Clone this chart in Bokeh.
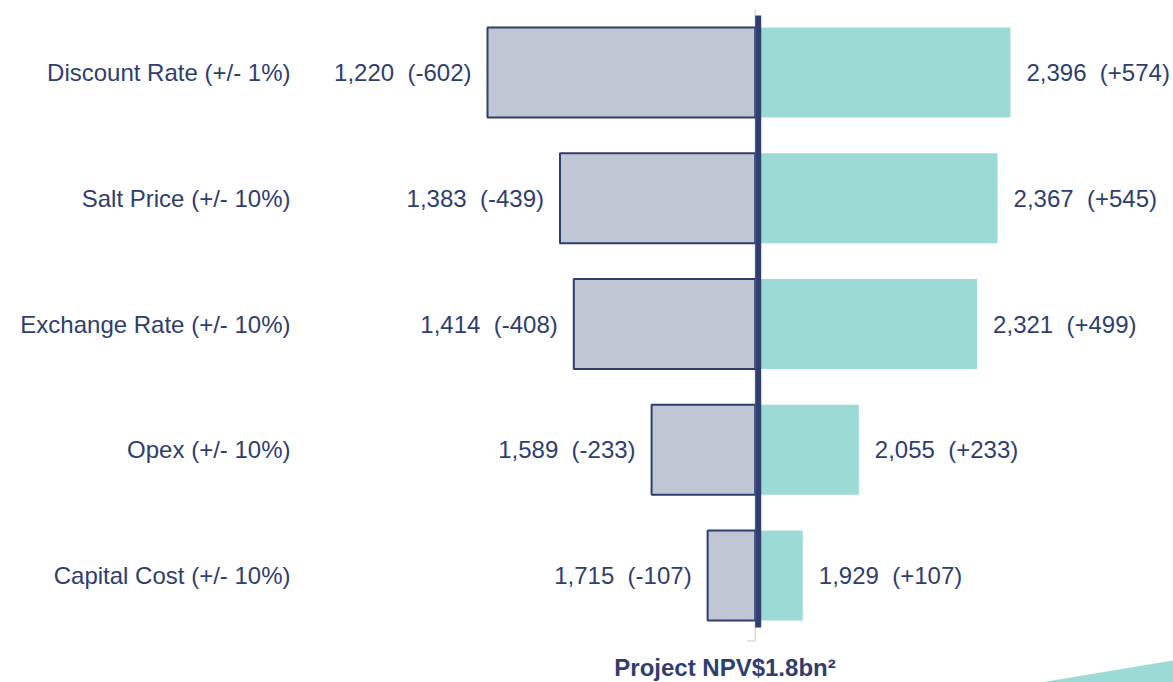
from bokeh.plotting import figure
from bokeh.models import Range1d, ColumnDataSource
from bokeh.embed import file_html
from bokeh.resources import INLINE
from bokeh.core.properties import value

# ---- data ----
categories = ["Discount Rate (+/- 1%)", "Salt Price (+/- 10%)",
              "Exchange Rate (+/- 10%)", "Opex (+/- 10%)", "Capital Cost (+/- 10%)"]
base_npv = 1822
low_npv = [1220, 1383, 1414, 1589, 1715]
high_npv = [2396, 2367, 2321, 2055, 1929]
low_delta = [-602, -439, -408, -233, -107]
high_delta = [574, 545, 499, 233, 107]
footer_text = "Project NPV$1.8bn\u00b2"

# ---- layout ----
W, H = 1173, 682
SCALE = 0.4447          # pixels per NPV unit
X0 = 1220 - 487 / SCALE  # data value at the left window edge
X1 = X0 + W / SCALE
ROW = 125.75             # pixels per category row
TOP = 72                 # pixel y of first category centre
Y_TOP = -TOP / ROW
Y_BOT = (H - TOP) / ROW


def px_x(px):
    return X0 + px / SCALE


def px_y(py):
    return (py - TOP) / ROW


NAVY = "#2F3E6E"
GREY_FILL = "#C0C6D4"
TEAL = "#9CDAD6"
FONT = "Liberation Sans"
HALF = 0.358
GAP = "\u00a0\u00a0"

idx = list(range(len(categories)))
src = ColumnDataSource(dict(
    y=idx,
    top=[i - HALF for i in idx],
    bottom=[i + HALF for i in idx],
    cat=categories,
    cat_x=[px_x(290)] * len(idx),
    low=low_npv,
    high=high_npv,
    base=[base_npv] * len(idx),
    tick_x=[base_npv - 8 / SCALE] * len(idx),
    low_lbl=[f"{l:,}{GAP}({d})" for l, d in zip(low_npv, low_delta)],
    high_lbl=[f"{h:,}{GAP}(+{d})" for h, d in zip(high_npv, high_delta)],
))

p = figure(width=W, height=H, output_backend="svg", toolbar_location=None,
           x_range=Range1d(X0, X1), y_range=Range1d(Y_BOT, Y_TOP),
           x_axis_type=None, y_axis_type=None,
           min_border=0, min_border_left=0, min_border_right=0,
           min_border_top=0, min_border_bottom=0)
p.outline_line_color = None
p.background_fill_color = "white"
p.border_fill_color = "white"
p.grid.visible = False

# faint category axis at base
p.segment(x0=base_npv, x1=base_npv, y0=-0.5, y1=4.52, line_color="#D9D9D9", line_width=1.5)
p.segment(x0="tick_x", x1="base", y0="y", y1="y", source=src,
          line_color="#D9D9D9", line_width=1.5)
p.segment(x0=base_npv - 8 / SCALE, x1=base_npv, y0=4.52, y1=4.52,
          line_color="#D9D9D9", line_width=1.5)

# low bars
p.quad(left="low", right="base", top="top", bottom="bottom",
       source=src, fill_color=GREY_FILL, line_color=NAVY, line_width=2)
# high bars
p.quad(left="base", right="high", top="top", bottom="bottom",
       source=src, fill_color=TEAL, line_color=None)

# centre line
p.quad(left=base_npv, right=base_npv + 6 / SCALE, top=px_y(15), bottom=px_y(627),
       fill_color=NAVY, line_color=None)

# value labels
p.text(x="low", y="y", text="low_lbl", source=src, x_offset=-16,
       text_align="right", text_baseline="middle", text_color=NAVY,
       text_font=value(FONT), text_font_size="24px")
p.text(x="high", y="y", text="high_lbl", source=src, x_offset=16,
       text_align="left", text_baseline="middle", text_color=NAVY,
       text_font=value(FONT), text_font_size="24px")

# category labels
p.text(x="cat_x", y="y", text="cat", source=src,
       text_align="right", text_baseline="middle", text_color=NAVY,
       text_font=value(FONT), text_font_size="24px")

# footer
p.text(x=[px_x(724.5)], y=[px_y(667)], text=[footer_text], text_align="center",
       text_baseline="middle", text_color=NAVY, text_font=value(FONT),
       text_font_size="24px", text_font_style="bold")

# decorative corner triangle
p.patch(x=[px_x(1040), X1, X1], y=[Y_BOT, px_y(660), Y_BOT],
        fill_color=TEAL, line_color=None)

open("out.html", "w").write(file_html(p, INLINE))
